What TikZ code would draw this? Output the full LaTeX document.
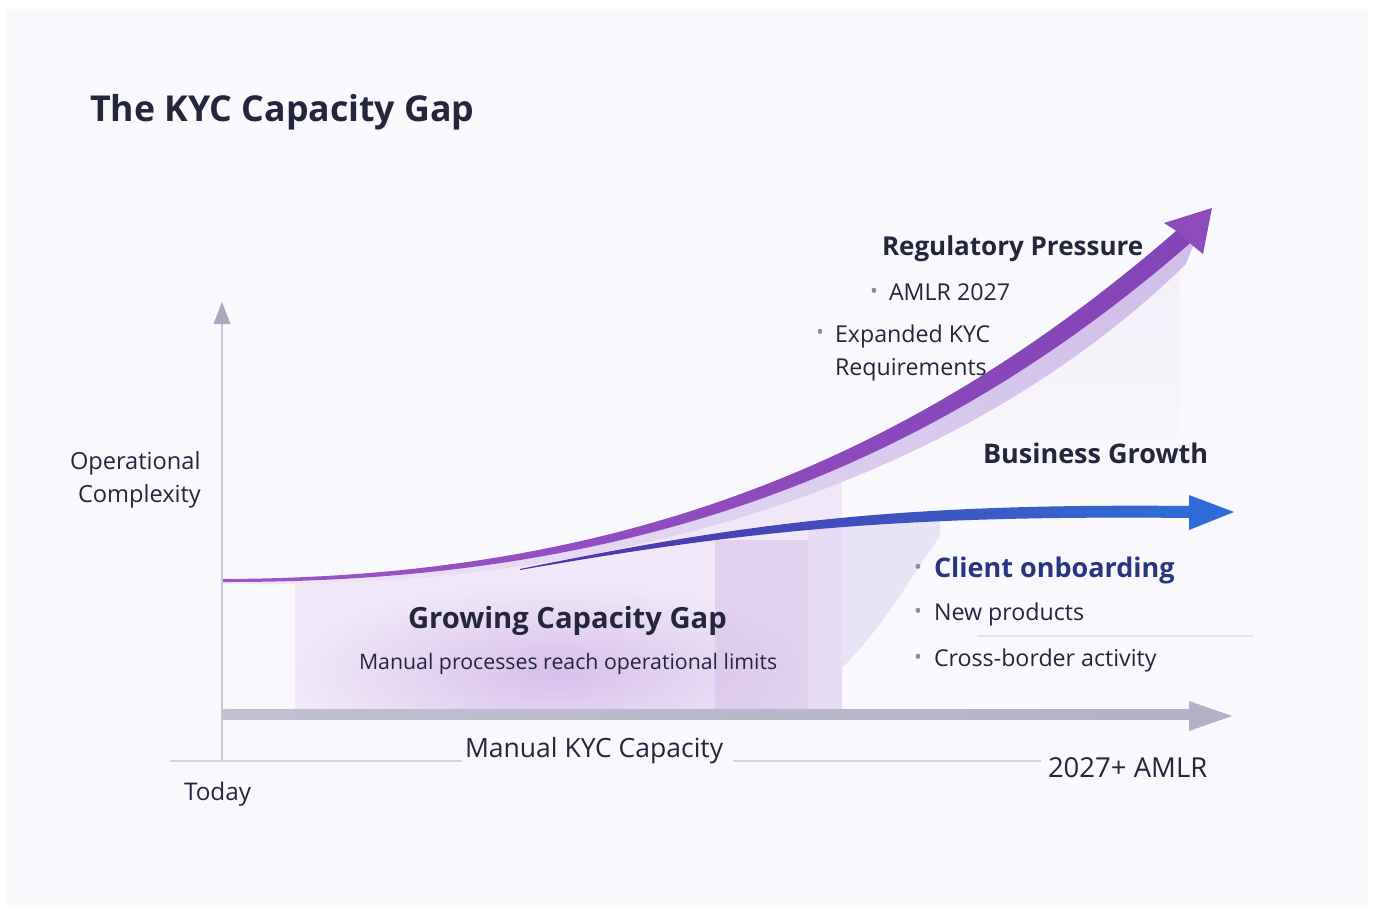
\documentclass[tikz,border=0pt]{standalone}
\usepackage{fontspec}
\setmainfont{Open Sans}
\definecolor{panel}{HTML}{F9F8FC}
\definecolor{ink}{HTML}{24263B}
\definecolor{navy}{HTML}{283580}
\definecolor{bulgray}{HTML}{8A8AA2}
\definecolor{axisgray}{HTML}{C6C6D6}
\definecolor{axishead}{HTML}{A9A8C0}
\definecolor{basegray}{HTML}{D2D2DE}
\definecolor{capgray}{HTML}{B2B1C6}
\definecolor{purA}{HTML}{9A54C6}
\definecolor{purB}{HTML}{8443B6}
\definecolor{purhead}{HTML}{8E4BBC}
\definecolor{shadowB}{HTML}{D0BDE9}
\definecolor{bluA}{HTML}{5230A4}
\definecolor{bluB}{HTML}{2F6CD6}
\definecolor{bluhead}{HTML}{2E6BD8}
\definecolor{gapbase}{HTML}{F0E8F8}
\definecolor{gapglow}{HTML}{D8BFEC}
\definecolor{gapband}{HTML}{D4BBE8}
\definecolor{gapband2}{HTML}{E2D7F2}
\definecolor{swoosh}{HTML}{E7E4F6}
\definecolor{sepgray}{HTML}{E3E3EB}
\definecolor{faintrect}{HTML}{F3F0FA}
\begin{document}
\begin{tikzpicture}[x=1pt,y=-1pt,
  every node/.style={inner sep=0pt,outer sep=0pt,text=ink},
  titletext/.style={font=\bfseries\fontsize{35.7}{40}\selectfont},
  headtext/.style={font=\bfseries\fontsize{26}{31}\selectfont},
  bodytext/.style={font=\fontsize{23.2}{28}\selectfont},
  axistext/.style={font=\fontsize{26.5}{31}\selectfont},
  bul/.style={text=bulgray,font=\fontsize{21}{24}\selectfont},
  axisline/.style={draw=axisgray,line width=1.6pt},
  baseline/.style={draw=basegray,line width=1.3pt}]
\useasboundingbox (0,0) rectangle (1373,909);
\fill[white] (0,0) rectangle (1373,909);
\fill[panel] (6,9) rectangle (1368,905);

% faint backdrop under the regulatory curve
\begin{scope}
  \clip (1186,262) .. controls (975,470) and (640,592) .. (222,584) -- (222,900) -- (1180,900) -- (1180,262) -- cycle;
  \shade[top color=faintrect,bottom color=panel] (930,255) rectangle (1180,480);
\end{scope}

% ---- capacity gap fill ----
\begin{scope}
  \clip (222,582) .. controls (600,583) and (910,490) .. (1196,238) -- (1196,709) -- (222,709) -- cycle;
  \clip (295,300) rectangle (842,709);
  \fill[gapbase] (295,300) rectangle (842,709);
  \shade[inner color=gapglow,outer color=gapbase] (555,672) ellipse [x radius=260,y radius=90];
  \fill[gapband,opacity=0.5] (715,540) rectangle (808,709);
  \fill[gapband2,opacity=0.7] (808,528) rectangle (842,709);
\end{scope}
\fill[swoosh] (842,668) .. controls (885,625) and (912,575) .. (940,536) -- (940,511) -- (842,520) -- cycle;

% ---- shadow band under regulatory curve ----
\shade[left color=gapbase,right color=shadowB]
  (222,582) .. controls (600,583) and (910,490) .. (1196,238)
  -- (1186,264) .. controls (975,470) and (640,592) .. (222,584) -- cycle;

% ---- regulatory pressure curve ----
\coordinate (regS) at (222,580);
\coordinate (regT) at (1212,208);
\shade[left color=purA,right color=purB]
  (222,579) .. controls (600,578) and (900,474) .. (1184,224)
  -- (1196,238) .. controls (910,490) and (600,583) .. (222,582) -- cycle;
\fill[purhead] (regT) -- (1164,223) -- (1181,234) -- (1192,245) -- (1203,254) -- cycle;

% ---- business growth curve ----
\coordinate (bizS) at (520,570);
\coordinate (bizT) at (1234,512);
\shade[left color=bluA,right color=bluB]
  (520,569) .. controls (750,522) and (900,503) .. (1192,506)
  -- (1192,518) .. controls (900,515) and (750,530) .. (520,570) -- cycle;
\fill[bluhead] (bizT) -- (1189,495) -- (1189,530) -- cycle;

% ---- manual KYC capacity arrow ----
\coordinate (capS) at (222,714);
\coordinate (capT) at (1232,716);
\shade[left color=capgray!80,right color=capgray] (222,709.5) rectangle (1192,719.5);
\fill[capgray] (capT) -- (1189,701) -- (1189,731) -- cycle;

% ---- y axis ----
\coordinate (ybot) at (222,761);
\coordinate (ytop) at (222,302);
\draw[axisline] (ybot) -- (222,322);
\fill[axishead] (ytop) -- (230.5,324) -- (213.5,324) -- cycle;

% ---- baseline ----
\coordinate (b1) at (170,761);
\coordinate (b2) at (462,761);
\coordinate (b3) at (733,761);
\coordinate (b4) at (1041,761);
\draw[baseline] (b1) -- (b2);
\draw[baseline] (b3) -- (b4);

% ---- separator ----
\coordinate (s1) at (977,636);
\coordinate (s2) at (1253,636);
\draw[draw=sepgray,line width=1.2pt] (s1) -- (s2);

% ---- texts ----
\node[titletext,anchor=base west] (title) at (90,122) {The KYC Capacity Gap};

\node[headtext,anchor=base west] (reg) at (882,256) {Regulatory Pressure};
\node[bul] (b-amlr) at (874,293) {•};
\node[bodytext,anchor=base west] (amlr) at (889,301) {AMLR 2027};
\node[bul] (b-exp) at (820,334) {•};
\node[bodytext,anchor=base west] (exp1) at (835,342) {Expanded KYC};
\node[bodytext,anchor=base west] (exp2) at (835,375) {Requirements};

\node[headtext,font=\bfseries\fontsize{27}{32}\selectfont,anchor=base west] (biz) at (983,463) {Business Growth};

\node[bul] (b-cli) at (918,569) {•};
\node[headtext,font=\bfseries\fontsize{27}{32}\selectfont,text=navy,anchor=base west] (cli) at (934,577) {Client onboarding};
\node[bul] (b-new) at (918,613) {•};
\node[bodytext,anchor=base west] (new) at (934,620) {New products};
\node[bul] (b-cross) at (918,659) {•};
\node[bodytext,anchor=base west] (cross) at (934,666) {Cross-border activity};

\node[headtext,font=\bfseries\fontsize{29.2}{34}\selectfont,anchor=base west] (gap) at (408,628) {Growing Capacity Gap};
\node[font=\fontsize{21.3}{25}\selectfont,anchor=base west] (gapsub) at (359,669) {Manual processes reach operational limits};

\node[bodytext,font=\fontsize{23.6}{28}\selectfont,anchor=base west] (op1) at (70,469) {Operational};
\node[bodytext,font=\fontsize{23.6}{28}\selectfont,anchor=base west] (op2) at (78,502) {Complexity};

\node[axistext,anchor=base west] (cap) at (465,757) {Manual KYC Capacity};
\node[axistext,font=\fontsize{27.5}{32}\selectfont,anchor=base west] (amlr27) at (1048,777) {2027+ AMLR};
\node[bodytext,font=\fontsize{24.3}{29}\selectfont,anchor=base west] (today) at (184,800) {Today};
\end{tikzpicture}
\end{document}
